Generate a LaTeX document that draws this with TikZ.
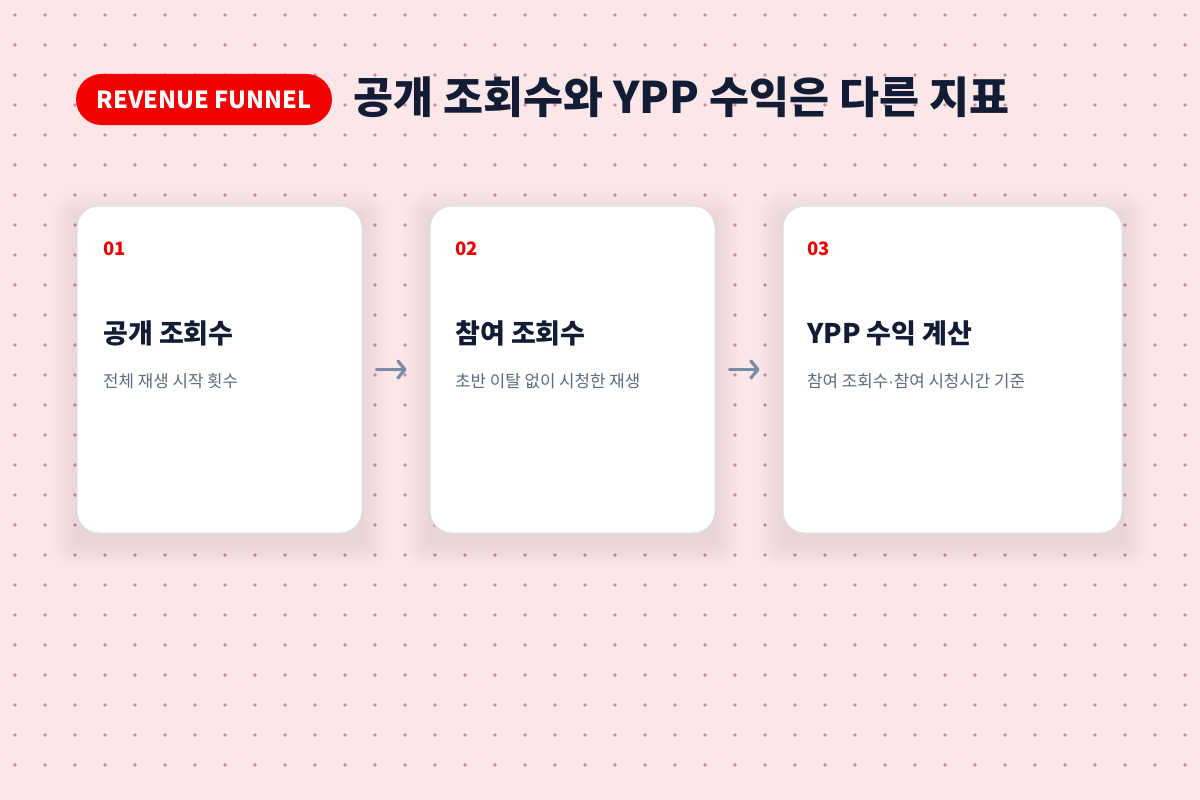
\documentclass[tikz,border=0pt]{standalone}
\usepackage{fontspec}
\setmainfont{Noto Sans CJK KR}
\newfontfamily\heavyfont{Noto Sans CJK KR Black}
\newfontfamily\dotfont{Liberation Sans}
\usetikzlibrary{arrows.meta}

\definecolor{bgpink}{HTML}{FBE6E8}
\definecolor{dotpink}{HTML}{CF869F}
\definecolor{badgered}{HTML}{F50000}
\definecolor{numred}{HTML}{E80000}
\definecolor{inknavy}{HTML}{121D35}
\definecolor{subgray}{HTML}{5E6A7D}
\definecolor{cardline}{HTML}{D9E1ED}
\definecolor{flowgray}{HTML}{7A8BA6}
\definecolor{shadowtint}{HTML}{7A5A68}

\tikzset{
  card/.style={draw=cardline, line width=1pt, fill=white, rounded corners=22pt,
    minimum height=327pt, inner sep=0pt},
  num/.style={anchor=west, inner sep=0pt, text=numred, font=\bfseries\fontsize{18.5}{20}\selectfont},
  head/.style={anchor=west, inner sep=0pt, text=inknavy, font=\bfseries\fontsize{27}{30}\selectfont},
  sub/.style={anchor=west, inner sep=0pt, text=subgray, font=\fontsize{16.8}{20}\selectfont},
  flow/.style={draw=flowgray, line width=3.2pt, line cap=round,
    -{Straight Barb[length=7pt, width=17pt, line cap=round, line join=round]},
    shorten <=14pt, shorten >=23pt},
  badge/.style={fill=badgered, rounded corners=25.5pt, minimum width=256pt, minimum height=51pt,
    inner sep=0pt, text=white, font=\heavyfont\fontsize{23.5}{26}\selectfont},
  headline/.style={anchor=west, inner sep=0pt, text=inknavy, font=\heavyfont\fontsize{43.5}{48}\selectfont}
}

\begin{document}
\begin{tikzpicture}[x=1pt, y=-1pt]
    % Background
    \useasboundingbox (0,0) rectangle (1200,800);
    \fill [bgpink] (0,0) rectangle (1200,800);
    % Dot grid
    \foreach \x in {15,45,...,1185}
      \foreach \y in {15,45,...,785}
        \fill [dotpink] (\x,\y) circle (1.9pt);
    % Header
    \node [badge] (badge) at (204,99.5) {REVENUE FUNNEL};
    \node [headline] (title) at (353,97) {공개 조회수와 YPP 수익은 다른 지표};
    % Card shadows
    \foreach \cx/\w in {219.5/285, 572.5/285, 952.5/339}
      \foreach \s [evaluate=\s as \r using 22+\s] in {1,4,...,25}
        \fill [shadowtint, opacity=0.013, rounded corners=\r pt]
          (\cx-\w/2-\s, 206-\s+10) rectangle (\cx+\w/2+\s, 533+\s+10);
    % Cards
    \node [card, minimum width=285pt] (card1) at (219.5,369.5) {};
    \node [card, minimum width=285pt] (card2) at (572.5,369.5) {};
    \node [card, minimum width=339pt] (card3) at (952.5,369.5) {};
    % Card 1
    \node [num] (num1) at (103,249) {01};
    \node [head] (head1) at (103,333) {공개 조회수};
    \node [sub] (sub1) at (103,381) {전체 재생 시작 횟수};
    % Card 2
    \node [num] (num2) at (455,249) {02};
    \node [head] (head2) at (455,333) {참여 조회수};
    \node [sub] (sub2) at (455,381) {초반 이탈 없이 시청한 재생};
    % Card 3
    \node [num] (num3) at (807,249) {03};
    \node [head] (head3) at (807,333) {YPP 수익 계산};
    \node [sub] (sub3) at (807,381) {참여 조회수{\dotfont ·}참여 시청시간 기준};
    % Arrows
    \draw [flow] (card1) -- (card2);
    \draw [flow] (card2) -- (card3);
\end{tikzpicture}
\end{document}
